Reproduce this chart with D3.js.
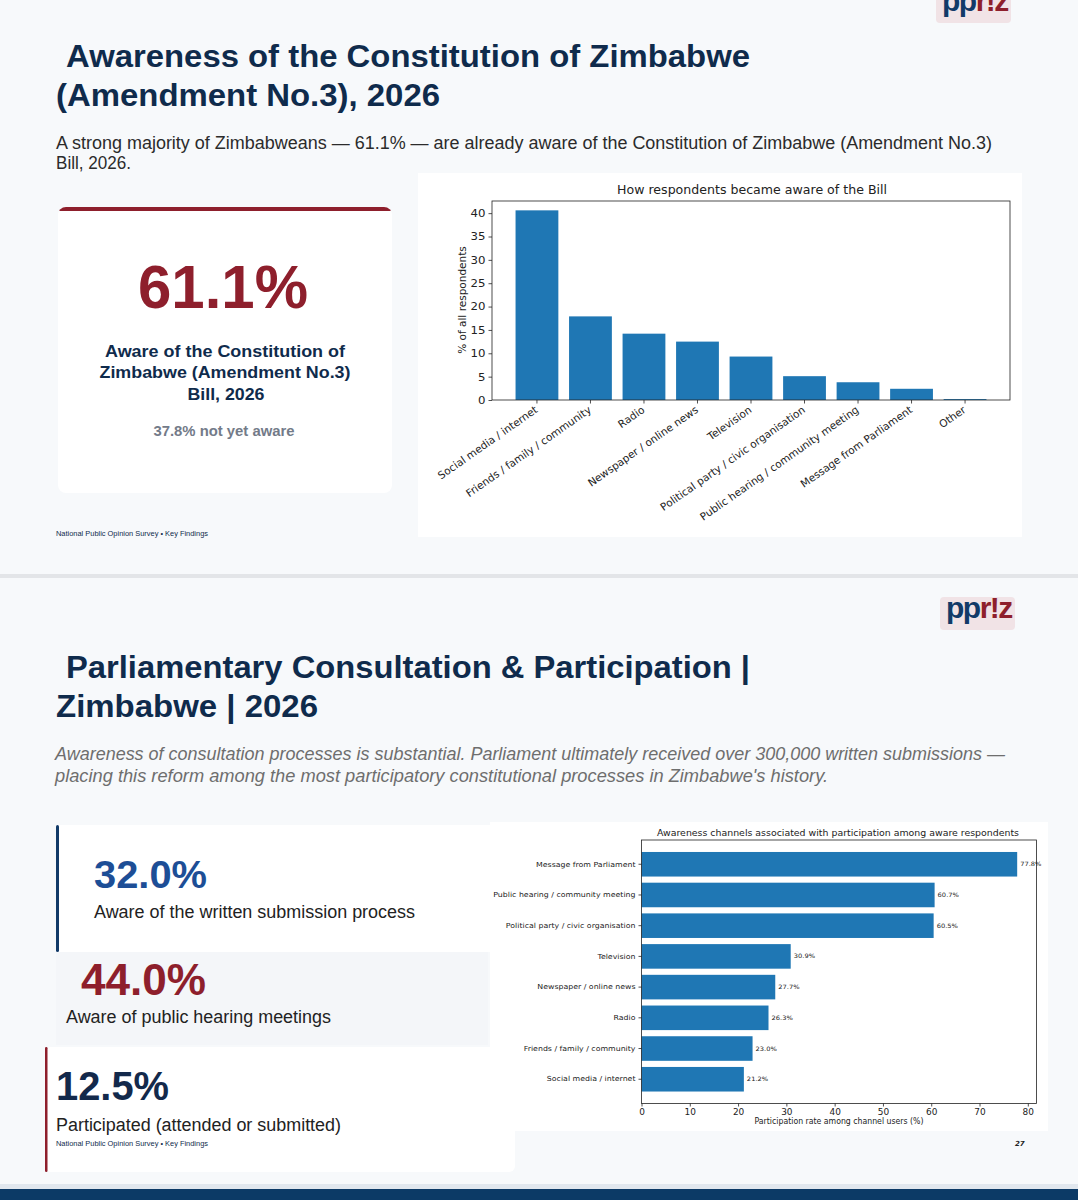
<!DOCTYPE html>
<html>
<head>
<meta charset="utf-8">
<script src="https://cdn.jsdelivr.net/npm/d3@7"></script>
<style>
body { margin: 0; background: #f7f9fb; }
svg { display: block; }
</style>
</head>
<body>
<script>
// how respondents became aware of the Bill (% of all respondents)
var awareCats = ["Social media / internet", "Friends / family / community", "Radio",
    "Newspaper / online news", "Television", "Political party / civic organisation",
    "Public hearing / community meeting", "Message from Parliament", "Other"];
var awareVals = [40.6, 17.9, 14.2, 12.5, 9.3, 5.1, 3.8, 2.4, 0.2];
var awareTicks = [0, 5, 10, 15, 20, 25, 30, 35, 40];

// participation rate among channel users (%), top to bottom
var partCats = ["Message from Parliament", "Public hearing / community meeting",
    "Political party / civic organisation", "Television", "Newspaper / online news",
    "Radio", "Friends / family / community", "Social media / internet"];
var partVals = [77.8, 60.7, 60.5, 30.9, 27.7, 26.3, 23.0, 21.2];
var partTicks = [0, 10, 20, 30, 40, 50, 60, 70, 80];

var SANS = "'Liberation Sans', Arial, sans-serif";
var MPL = "'DejaVu Sans', sans-serif";
var NAVY = "#0f2b4c", RED = "#8e1f2c", BLUE = "#1f77b4";
var STRETCH = 1.12; // the chart images in the slide are a bit wider than tall

var svg = d3.select("body").append("svg")
    .attr("width", 1078)
    .attr("height", 1200);

function label(x, y, str, size, opts) {
    opts = opts || {};
    var t = svg.append("text")
        .attr("x", x).attr("y", y)
        .attr("font-family", opts.family || SANS)
        .attr("font-size", size)
        .attr("font-weight", opts.weight || "normal")
        .attr("font-style", opts.style || "normal")
        .attr("fill", opts.fill || "#222")
        .attr("text-anchor", opts.anchor || "start")
        .text(str);
    if (opts.len) {
        t.attr("textLength", opts.len).attr("lengthAdjust", "spacingAndGlyphs");
    }
    return t;
}

function logo(x, y, size) {
    svg.append("rect").attr("x", x - 6).attr("y", y - size * 0.7)
        .attr("width", size * 2.5).attr("height", size * 1.1).attr("rx", 4)
        .attr("fill", "#e9c8cc").attr("opacity", 0.45);
    var t = label(x, y, "", size, { weight: "bold" }).attr("letter-spacing", -1.5);
    t.append("tspan").attr("fill", "#123a68").text("pp");
    t.append("tspan").attr("fill", RED).text("r!z");
}

// stretch matplotlib text horizontally around its own anchor
function widen(sel) {
    sel.each(function() {
        var t = d3.select(this), x = +t.attr("x") || 0;
        t.attr("x", x / STRETCH).attr("transform", "scale(" + STRETCH + ",1)");
    });
}

// ---------- slide 1 ----------
logo(942, 11, 30);

label(66, 67, "Awareness of the Constitution of Zimbabwe", 31, { weight: "bold", fill: NAVY, len: 684 });
label(56, 106, "(Amendment No.3), 2026", 31, { weight: "bold", fill: NAVY, len: 384 });
label(56, 149, "A strong majority of Zimbabweans \u2014 61.1% \u2014 are already aware of the Constitution of Zimbabwe (Amendment No.3)", 17.5, { fill: "#2b2b2b", len: 936 });
label(56, 169, "Bill, 2026.", 17.5, { fill: "#2b2b2b", len: 75 });

// headline card
svg.append("clipPath").attr("id", "card1")
    .append("rect").attr("x", 58).attr("y", 207).attr("width", 334).attr("height", 286).attr("rx", 8);
svg.append("rect").attr("x", 58).attr("y", 207).attr("width", 334).attr("height", 286).attr("rx", 8)
    .attr("fill", "#fff");
svg.append("rect").attr("x", 58).attr("y", 207).attr("width", 334).attr("height", 4)
    .attr("fill", RED).attr("clip-path", "url(#card1)");
label(223, 308, "61.1%", 62, { weight: "bold", fill: RED, anchor: "middle", len: 170 });
label(225, 357, "Aware of the Constitution of", 17, { weight: "bold", fill: NAVY, anchor: "middle", len: 240 });
label(225, 378, "Zimbabwe (Amendment No.3)", 17, { weight: "bold", fill: NAVY, anchor: "middle", len: 251 });
label(226, 400, "Bill, 2026", 17, { weight: "bold", fill: NAVY, anchor: "middle", len: 77 });
label(224, 436, "37.8% not yet aware", 14.5, { weight: "bold", fill: "#737b89", anchor: "middle", len: 141 });
label(56, 536, "National Public Opinion Survey \u2022 Key Findings", 7, { fill: NAVY, len: 152 });

// chart 1 panel
svg.append("rect").attr("x", 418).attr("y", 173).attr("width", 604).attr("height", 364).attr("fill", "#fff");

var x1 = d3.scaleBand().domain(awareCats).range([492, 1010]).paddingInner(0.2).paddingOuter(0.44);
var y1 = d3.scaleLinear().domain([0, 42.6]).range([400, 201]);

svg.append("g").selectAll("rect")
    .data(awareVals)
    .enter().append("rect")
    .attr("x", function(d, i) { return x1(awareCats[i]); })
    .attr("width", x1.bandwidth())
    .attr("y", function(d) { return y1(d); })
    .attr("height", function(d) { return y1(0) - y1(d); })
    .attr("fill", BLUE);

function styleAxis(g, size) {
    g.select(".domain").remove();
    g.selectAll(".tick line").attr("stroke", "#222").attr("stroke-width", 0.8);
    g.selectAll(".tick text").attr("font-family", MPL).attr("font-size", size).attr("fill", "#222");
}

svg.append("g")
    .attr("transform", "translate(0,400)")
    .call(d3.axisBottom(x1).tickSize(3.5))
    .call(styleAxis, 10.5)
    .selectAll(".tick text")
    .attr("x", 0).attr("y", 0).attr("dy", "0.75em")
    .attr("text-anchor", "end")
    .attr("transform", "translate(-3,5) rotate(-35)");

svg.append("g")
    .attr("transform", "translate(492,0)")
    .call(d3.axisLeft(y1).tickValues(awareTicks).tickSize(3.5))
    .call(styleAxis, 10.5)
    .selectAll(".tick text").call(widen);

svg.append("rect").attr("x", 492).attr("y", 201).attr("width", 518).attr("height", 199)
    .attr("fill", "none").attr("stroke", "#222").attr("stroke-width", 0.8);

label(752, 194, "How respondents became aware of the Bill", 11.5, { family: MPL, anchor: "middle", len: 270 });
label(0, 0, "% of all respondents", 10.5, { family: MPL, anchor: "middle" })
    .attr("transform", "translate(466,300) rotate(-90)");

// slide separator
svg.append("rect").attr("x", 0).attr("y", 574).attr("width", 1078).attr("height", 4).attr("fill", "#e3e5e8");

// ---------- slide 2 ----------
logo(946, 618, 30);

label(66, 678, "Parliamentary Consultation & Participation |", 31, { weight: "bold", fill: NAVY, len: 684 });
label(56, 717, "Zimbabwe | 2026", 31, { weight: "bold", fill: NAVY, len: 262 });
label(55, 760, "Awareness of consultation processes is substantial. Parliament ultimately received over 300,000 written submissions \u2014", 17.5, { style: "italic", fill: "#6e6e6e", len: 950 });
label(55, 782, "placing this reform among the most participatory constitutional processes in Zimbabwe's history.", 17.5, { style: "italic", fill: "#6e6e6e", len: 773 });

// stat cards
svg.append("rect").attr("x", 56).attr("y", 825).attr("width", 440).attr("height", 127).attr("fill", "#fff");
svg.append("rect").attr("x", 56).attr("y", 825).attr("width", 3).attr("height", 127).attr("rx", 1.5).attr("fill", "#123a68");
label(94, 888, "32.0%", 39, { weight: "bold", fill: "#1d4e96", len: 113 });
label(94, 918, "Aware of the written submission process", 17.5, { fill: "#222", len: 321 });

svg.append("rect").attr("x", 56).attr("y", 952).attr("width", 432).attr("height", 93).attr("fill", "#f4f6f9");
label(81, 995, "44.0%", 44, { weight: "bold", fill: RED, len: 125 });
label(66, 1023, "Aware of public hearing meetings", 17.5, { fill: "#222", len: 265 });

svg.append("rect").attr("x", 45).attr("y", 1047).attr("width", 470).attr("height", 125).attr("rx", 6).attr("fill", "#fff");
svg.append("rect").attr("x", 45).attr("y", 1047).attr("width", 2.5).attr("height", 125).attr("rx", 1.2).attr("fill", RED);
label(56, 1100, "12.5%", 40, { weight: "bold", fill: "#13294b", len: 113 });
label(56, 1131, "Participated (attended or submitted)", 18, { fill: "#222", len: 285 });
label(56, 1146, "National Public Opinion Survey \u2022 Key Findings", 7, { fill: NAVY, len: 152 });

// chart 2 panel
svg.append("rect").attr("x", 490).attr("y", 822).attr("width", 558).attr("height", 309).attr("fill", "#fff");

var x2 = d3.scaleLinear().domain([0, 81.8]).range([641.5, 1036.5]);
var y2 = d3.scaleBand().domain(partCats).range([840, 1103.5]).paddingInner(0.2).paddingOuter(0.39);

var bars2 = svg.append("g").selectAll("g")
    .data(partVals)
    .enter().append("g");

bars2.append("rect")
    .attr("x", x2(0))
    .attr("y", function(d, i) { return y2(partCats[i]); })
    .attr("width", function(d) { return x2(d) - x2(0); })
    .attr("height", y2.bandwidth())
    .attr("fill", BLUE);

bars2.append("text")
    .attr("x", function(d) { return x2(d) + 3; })
    .attr("y", function(d, i) { return y2(partCats[i]) + y2.bandwidth() / 2; })
    .attr("dy", "0.35em")
    .attr("font-family", MPL)
    .attr("font-size", 6)
    .attr("fill", "#222")
    .text(function(d) { return d3.format(".1f")(d) + "%"; })
    .call(widen);

svg.append("g")
    .attr("transform", "translate(641.5,0)")
    .call(d3.axisLeft(y2).tickSize(3))
    .call(styleAxis, 7)
    .selectAll(".tick text").call(widen);

svg.append("g")
    .attr("transform", "translate(0,1103.5)")
    .call(d3.axisBottom(x2).tickValues(partTicks).tickSize(3))
    .call(styleAxis, 8)
    .selectAll(".tick text").call(widen);

svg.append("rect").attr("x", 641.5).attr("y", 840).attr("width", 395).attr("height", 263.5)
    .attr("fill", "none").attr("stroke", "#222").attr("stroke-width", 0.8);

label(838, 836, "Awareness channels associated with participation among aware respondents", 8.3, { family: MPL, anchor: "middle", len: 362 });
label(839, 1124, "Participation rate among channel users (%)", 8, { family: MPL, anchor: "middle", len: 169 });

label(1015, 1146, "27", 7, { family: MPL, weight: "bold", style: "italic", fill: "#222" });

// footer band
svg.append("rect").attr("x", 0).attr("y", 1184).attr("width", 1078).attr("height", 5).attr("fill", "#e1e7ee");
svg.append("rect").attr("x", 0).attr("y", 1189).attr("width", 1078).attr("height", 11).attr("fill", "#0c3a66");
</script>
</body>
</html>
